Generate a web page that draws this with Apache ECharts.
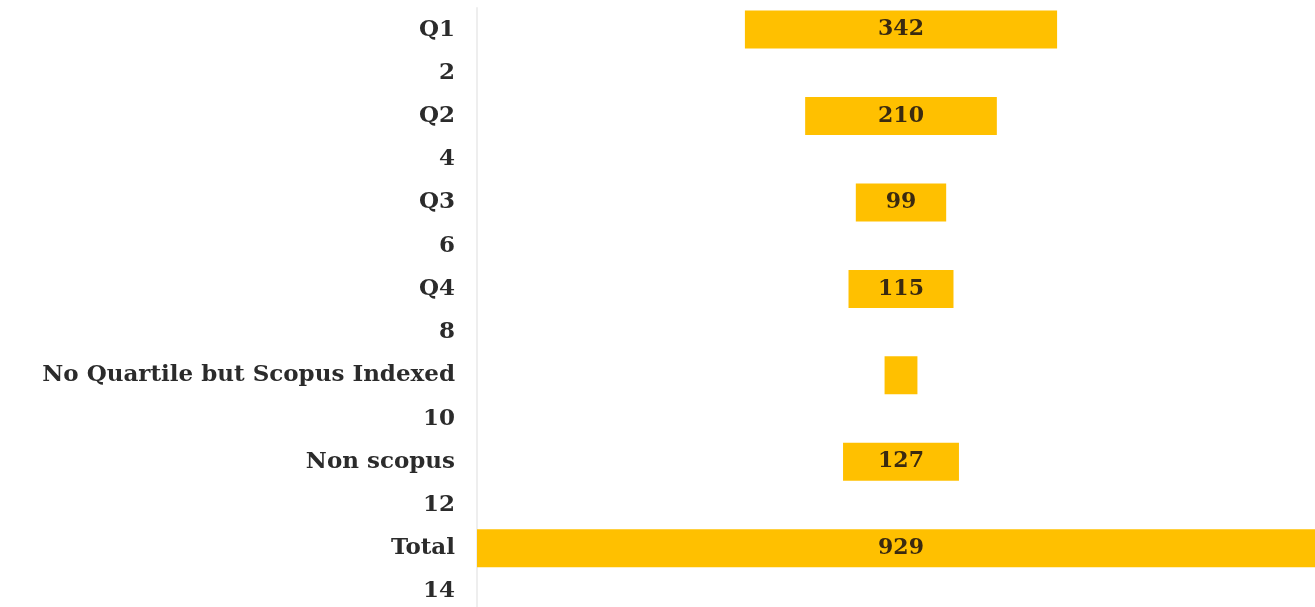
<!DOCTYPE html>
<html>
<head>
<meta charset="utf-8">
<script src="https://cdn.jsdelivr.net/npm/echarts@6/dist/echarts.min.js"></script>
<style>
  html, body { margin: 0; padding: 0; background: #fff; overflow: hidden; }
  /* a bit wider/taller than the window: the Total bar and last row run off the edge */
  #chart { width: 1325px; height: 613px; }
</style>
</head>
<body>
<div id="chart"></div>
<script>
// rows, top to bottom (even numbers are empty spacer rows)
var categories = ["Q1", "2", "Q2", "4", "Q3", "6", "Q4", "8",
  "No Quartile but Scopus Indexed", "10", "Non scopus", "12", "Total", "14"];
var values = [342, null, 210, null, 99, null, 115, null, 36, null, 127, null, 929, null];

var maxVal = Math.max.apply(null, values.filter(function (v) { return v != null; }));
// transparent offset so each bar sits centered
var offsets = values.map(function (v) { return v == null ? null : (maxVal - v) / 2; });

var chart = echarts.init(document.getElementById("chart"));
chart.setOption({
  animation: false,
  grid: {
    left: 477,
    right: 0,
    top: 8,
    bottom: 0,
    containLabel: false,
  },
  xAxis: {
    type: "value",
    min: 0,
    max: maxVal,
    show: false,
  },
  yAxis: {
    type: "category",
    inverse: true,
    data: categories,
    axisLine: {
      show: true,
      lineStyle: { color: "#eeeeee", width: 2 },
    },
    axisTick: { show: false },
    axisLabel: {
      margin: 22,
      color: "#2b2b2b",
      fontSize: 23,
      fontWeight: "bold",
      fontFamily: "DejaVu Serif",
    },
  },
  series: [
    {
      type: "bar",
      stack: "funnel",
      data: offsets,
      barWidth: 38,
      itemStyle: { color: "transparent" },
      silent: true,
    },
    {
      type: "bar",
      stack: "funnel",
      data: values,
      barWidth: 38,
      itemStyle: { color: "#FFC000" },
      label: {
        show: true,
        position: "inside",
        color: "#3a2a10",
        fontSize: 22,
        fontWeight: "bold",
        fontFamily: "DejaVu Serif",
        formatter: function (p) {
          // too narrow for text
          return p.value < 50 ? "" : p.value;
        },
      },
    },
  ],
});
</script>
</body>
</html>
